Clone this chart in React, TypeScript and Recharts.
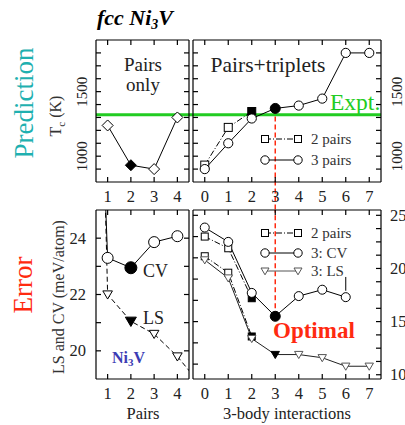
import React from 'react';
import { ComposedChart, Line, XAxis, YAxis, ReferenceLine } from 'recharts';

const FONT = '"Liberation Serif", "DejaVu Serif", serif';

// ---------- data ----------
// Top-left: Tc, pairs only
const pairsX = [1, 2, 3, 4];
const tcPairsOnly = [1238, 930, 900, 1300];
const pairsOnlyOptimal = 2;

// Top-right: Tc, pairs + triplets
const tripletsX = [0, 1, 2, 3, 4, 5, 6, 7];
const tc2Pairs = [931, 1223, 1346];
const tc3Pairs = [900, 1100, 1292, 1370, 1392, 1446, 1800, 1800];
const twoPairsOptimal = 2;
const threePairsOptimal = 3;
const EXPT_TC = 1320;

// Bottom-left: errors vs pairs
const cvPairsX = [0, 1, 2, 3, 4];
const cvPairs = [45, 23.3, 22.95, 23.86, 24.07];
const lsPairsX = [0, 1, 2, 3, 4, 5];
const lsPairs = [55, 22.0, 21.05, 20.6, 19.8, 18.8];
const pairsErrOptimal = 2;

// Bottom-right: errors vs 3-body interactions
const cv2Pairs = [23.0, 21.9, 17.2];
const ls2Pairs = [21.15, 19.6, 13.6];
const cv3 = [23.85, 22.5, 17.7, 15.5, 17.4, 18.0, 17.3];
const ls3 = [20.8, 19.1, 13.4, 11.9, 11.9, 11.6, 10.8, 10.8];

// axes / ticks
const pairsDomain = [0.5, 4.5];
const pairsTicks = [1, 2, 3, 4];
const tripDomain = [-0.5, 7.5];
const tripTicks = [0, 1, 2, 3, 4, 5, 6, 7];
const tcDomain = [800, 1900];
const tcTicks = [900, 1000, 1100, 1200, 1300, 1400, 1500, 1600, 1700, 1800];
const tcLabels = [1000, 1500];
const errLDomain = [19, 25];
const errLTicks = [20, 21, 22, 23, 24];
const errLLabels = [20, 22, 24];
const errRDomain = [9.6, 25.5];
const errRTicksLeft = [11, 13, 15, 17, 19, 21, 23, 25];
const errRTicksRight = [10, 11.25, 12.5, 13.75, 15, 16.25, 17.5, 18.75, 20, 21.25, 22.5, 23.75, 25];
const errRLabels = [10, 15, 20, 25];

const rows = (xs: number[], ys: number[]) => ys.map((y, i) => ({ x: xs[i], y }));

// ---------- markers ----------
type Shape = 'circle' | 'square' | 'diamond' | 'tri';
function Marker({ cx, cy, shape, size, filled, stroke }: any) {
  const fill = filled ? '#000' : '#fff';
  const st = filled ? '#000' : stroke;
  const common = { fill, stroke: st, strokeWidth: 1 };
  if (shape === 'circle') return <circle cx={cx} cy={cy} r={size} {...common} />;
  if (shape === 'square')
    return <rect x={cx - size} y={cy - size} width={2 * size} height={2 * size} {...common} />;
  if (shape === 'diamond')
    return (
      <polygon
        points={`${cx},${cy - size} ${cx + size},${cy} ${cx},${cy + size} ${cx - size},${cy}`}
        {...common}
      />
    );
  return (
    <polygon
      points={`${cx - size},${cy - size * 0.75} ${cx + size},${cy - size * 0.75} ${cx},${cy + size * 0.95}`}
      {...common}
    />
  );
}

const dotFn =
  (shape: Shape, size: number, filledIdx: number, xD: number[], yD: number[], stroke = '#000', filledSize?: number) =>
  (p: any) => {
    const { cx, cy, index, payload } = p;
    const key = `d-${index}`;
    if (payload.x < xD[0] || payload.x > xD[1] || payload.y < yD[0] || payload.y > yD[1]) return <g key={key} />;
    const filled = index === filledIdx;
    return (
      <Marker key={key} cx={cx} cy={cy} shape={shape} size={filled && filledSize ? filledSize : size} filled={filled} stroke={stroke} />
    );
  };

// ---------- ticks ----------
const TICK_FS = 16.5;
const emptyTick = () => <g />;
const rotTick = (labels: number[], dx: number) => (p: any) => {
  const { x, y, payload } = p;
  if (!labels.includes(payload.value)) return <g />;
  const X = x + dx;
  return (
    <text x={X} y={y} transform={`rotate(-90 ${X} ${y})`} textAnchor="middle" fontSize={15} fontFamily={FONT} fill="#222">
      {payload.value}
    </text>
  );
};
const hTick = (labels: number[], dx: number, anchor: string) => (p: any) => {
  const { x, y, payload } = p;
  if (!labels.includes(payload.value)) return <g />;
  return (
    <text x={x + dx} y={y + 5.5} textAnchor={anchor} fontSize={TICK_FS} fontFamily={FONT} fill="#222">
      {payload.value}
    </text>
  );
};
const xTick = (dy: number) => (p: any) => {
  const { x, y, payload } = p;
  return (
    <text x={x} y={y + dy} textAnchor="middle" fontSize={TICK_FS} fontFamily={FONT} fill="#222">
      {payload.value}
    </text>
  );
};

const axisStroke = { stroke: '#000', strokeWidth: 1.2 };

function frameAxes(o: {
  xDomain: number[];
  xTicks: number[];
  yDomain: number[];
  yTicksL: number[];
  yTicksR: number[];
  bottomTick: any;
  leftTick: any;
  rightTick: any;
}) {
  const common = { allowDataOverflow: true, tickSize: -5, tickMargin: 0, axisLine: axisStroke, tickLine: axisStroke, interval: 0 as any };
  return [
    <XAxis key="xb" xAxisId="b" orientation="bottom" type="number" dataKey="x" domain={o.xDomain} ticks={o.xTicks} height={1} tick={o.bottomTick} {...common} />,
    <XAxis key="xt" xAxisId="t" orientation="top" type="number" dataKey="x" domain={o.xDomain} ticks={o.xTicks} height={1} tick={emptyTick} {...common} />,
    <YAxis key="yl" yAxisId="l" orientation="left" type="number" domain={o.yDomain} ticks={o.yTicksL} width={1} tick={o.leftTick} {...common} />,
    <YAxis key="yr" yAxisId="r" orientation="right" type="number" domain={o.yDomain} ticks={o.yTicksR} width={1} tick={o.rightTick} {...common} />,
  ];
}

const W = 405;
const H = 425;
const abs: React.CSSProperties = { position: 'absolute', left: 0, top: 0 };
const RED = '#ff2a10';
const GREEN = '#22cc22';

// plot rect -> margin (axes take 1px each side)
const plotMargin = (l: number, t: number, r: number, b: number) => ({ left: l - 1, top: t - 1, right: W - r - 1, bottom: H - b - 1 });

const lineCommon = { xAxisId: 'b', yAxisId: 'l', dataKey: 'y', isAnimationActive: false, activeDot: false as any, legendType: 'none' as any };

export default function App() {
  const topLeft = (
    <ComposedChart width={W} height={H} margin={plotMargin(96, 40, 189, 182)}>
      {frameAxes({ xDomain: pairsDomain, xTicks: pairsTicks, yDomain: tcDomain, yTicksL: tcTicks, yTicksR: tcTicks, bottomTick: xTick(25), leftTick: rotTick(tcLabels, -14), rightTick: emptyTick })}
      <ReferenceLine xAxisId="b" yAxisId="l" ifOverflow="visible" segment={[{ x: pairsDomain[0], y: EXPT_TC }, { x: pairsDomain[1] + 0.17, y: EXPT_TC }]} stroke={GREEN} strokeWidth={3} />
      <Line {...lineCommon} data={rows(pairsX, tcPairsOnly)} stroke="#000" strokeWidth={1} dot={dotFn('diamond', 5.5, pairsOnlyOptimal - 1, pairsDomain, tcDomain)} />
    </ComposedChart>
  );

  const topRight = (
    <ComposedChart width={W} height={H} margin={plotMargin(193, 40, 381, 182)}>
      {frameAxes({ xDomain: tripDomain, xTicks: tripTicks, yDomain: tcDomain, yTicksL: tcTicks, yTicksR: tcTicks, bottomTick: xTick(25), leftTick: emptyTick, rightTick: rotTick(tcLabels, 26) })}
      <ReferenceLine xAxisId="b" yAxisId="l" ifOverflow="visible" segment={[{ x: tripDomain[0], y: EXPT_TC }, { x: tripDomain[1], y: EXPT_TC }]} stroke={GREEN} strokeWidth={3} />
      <ReferenceLine xAxisId="b" yAxisId="l" ifOverflow="visible" segment={[{ x: threePairsOptimal, y: tc3Pairs[threePairsOptimal] }, { x: threePairsOptimal, y: 560 }]} stroke={RED} strokeWidth={1.5} strokeDasharray="5 3" />
      <Line {...lineCommon} data={rows(tripletsX, tc2Pairs)} stroke="#000" strokeWidth={1} strokeDasharray="6 2 1 2" dot={dotFn('square', 4, twoPairsOptimal, tripDomain, tcDomain)} />
      <Line {...lineCommon} data={rows(tripletsX, tc3Pairs)} stroke="#000" strokeWidth={1} dot={dotFn('circle', 4.6, threePairsOptimal, tripDomain, tcDomain, '#000', 5)} />
    </ComposedChart>
  );

  const bottomLeft = (
    <ComposedChart width={W} height={H} margin={plotMargin(96, 210, 189, 379)}>
      {frameAxes({ xDomain: pairsDomain, xTicks: pairsTicks, yDomain: errLDomain, yTicksL: errLTicks, yTicksR: errLTicks, bottomTick: xTick(25), leftTick: hTick(errLLabels, -15, 'end'), rightTick: emptyTick })}
      <Line {...lineCommon} data={rows(lsPairsX, lsPairs)} stroke="#000" strokeWidth={1} strokeDasharray="5 3" dot={dotFn('tri', 4.8, pairsErrOptimal, pairsDomain, errLDomain, '#000', 5.5)} />
      <Line {...lineCommon} data={rows(cvPairsX, cvPairs)} stroke="#000" strokeWidth={1} dot={dotFn('circle', 5.5, pairsErrOptimal, pairsDomain, errLDomain, '#000', 6)} />
    </ComposedChart>
  );

  const bottomRight = (
    <ComposedChart width={W} height={H} margin={plotMargin(193, 210, 381, 379)}>
      {frameAxes({ xDomain: tripDomain, xTicks: tripTicks, yDomain: errRDomain, yTicksL: errRTicksLeft, yTicksR: errRTicksRight, bottomTick: xTick(25), leftTick: emptyTick, rightTick: hTick(errRLabels, 14, 'start') })}
      <ReferenceLine xAxisId="b" yAxisId="l" ifOverflow="visible" segment={[{ x: threePairsOptimal, y: cv3[threePairsOptimal] }, { x: threePairsOptimal, y: errRDomain[1] }]} stroke={RED} strokeWidth={1.5} strokeDasharray="5 3" />
      <ReferenceLine xAxisId="b" yAxisId="l" segment={[{ x: 6, y: 17.9 }, { x: 6, y: 19.2 }]} stroke="#000" strokeWidth={1} />
      <Line {...lineCommon} data={rows(tripletsX, ls2Pairs)} stroke="#000" strokeWidth={1} strokeDasharray="6 2 1 2" dot={dotFn('square', 3.5, twoPairsOptimal, tripDomain, errRDomain)} />
      <Line {...lineCommon} data={rows(tripletsX, cv2Pairs)} stroke="#000" strokeWidth={1} strokeDasharray="6 2 1 2" dot={dotFn('square', 3.5, twoPairsOptimal, tripDomain, errRDomain)} />
      <Line {...lineCommon} data={rows(tripletsX, ls3)} stroke="#222" strokeWidth={1} dot={dotFn('tri', 4.2, threePairsOptimal, tripDomain, errRDomain, '#555')} />
      <Line {...lineCommon} data={rows(tripletsX, cv3)} stroke="#000" strokeWidth={1} dot={dotFn('circle', 4.5, threePairsOptimal, tripDomain, errRDomain, '#000', 5)} />
    </ComposedChart>
  );

  const T = { fontFamily: FONT } as any;
  const legendRow = (y: number, shape: Shape, dash: string | undefined, label: string, size: number, stroke = '#000') => (
    <g key={label}>
      <line x1={265} x2={298} y1={y} y2={y} stroke={stroke} strokeWidth={1} strokeDasharray={dash} />
      <Marker cx={265} cy={y} shape={shape} size={size} filled={false} stroke={stroke} />
      <Marker cx={298} cy={y} shape={shape} size={size} filled={false} stroke={stroke} />
      <text x={311} y={y + 5} fontSize={15} fill="#333" {...T}>{label}</text>
    </g>
  );

  const overlay = (
    <svg width={W} height={H} style={{ ...abs, pointerEvents: 'none' }}>
      <text x={97} y={25} fontSize={22} fontWeight="bold" fontStyle="italic" fill="#000" {...T}>
        fcc Ni<tspan fontSize={14} dy={4}>3</tspan><tspan dy={-4}>V</tspan>
      </text>
      <text x={33} y={103} transform="rotate(-90 33 103)" textAnchor="middle" fontSize={27} fill="#1fb0b0" {...T}>Prediction</text>
      <text x={61} y={116} transform="rotate(-90 61 116)" textAnchor="middle" fontSize={16} fill="#333" {...T}>
        T<tspan fontSize={11} dy={4}>c</tspan><tspan dy={-4}> (K)</tspan>
      </text>
      <text x={143} y={71} textAnchor="middle" fontSize={19} fill="#222" {...T}>Pairs</text>
      <text x={143} y={91} textAnchor="middle" fontSize={19} fill="#222" {...T}>only</text>
      <text x={268} y={72} textAnchor="middle" fontSize={21.5} fill="#222" {...T}>Pairs+triplets</text>
      <text x={330} y={110} fontSize={23.5} fill={GREEN} {...T}>Expt.</text>
      {legendRow(139, 'square', '6 2 1 2', '2 pairs', 3.5)}
      {legendRow(160, 'circle', undefined, '3 pairs', 4.2)}

      <text x={32} y={285} transform="rotate(-90 32 285)" textAnchor="middle" fontSize={27} fill={RED} {...T}>Error</text>
      <text x={64} y={297} transform="rotate(-90 64 297)" textAnchor="middle" fontSize={16} fill="#333" {...T}>LS and CV (meV/atom)</text>
      <text x={143} y={277} fontSize={18} fill="#222" {...T}>CV</text>
      <text x={143} y={324} fontSize={18} fill="#222" {...T}>LS</text>
      <text x={112} y={363} fontSize={16} fontWeight="bold" fill="#3c3cb4" {...T}>
        Ni<tspan fontSize={11} dy={3}>3</tspan><tspan dy={-3}>V</tspan>
      </text>
      <text x={143} y={419} textAnchor="middle" fontSize={16.5} fill="#222" {...T}>Pairs</text>
      <text x={287} y={419} textAnchor="middle" fontSize={16.5} fill="#222" {...T}>3-body interactions</text>
      <text x={273} y={338} fontSize={23} fontWeight="bold" fill={RED} {...T}>Optimal</text>
      {legendRow(233, 'square', '6 2 1 2', '2 pairs', 3.5)}
      {legendRow(253, 'circle', undefined, '3: CV', 4.2)}
      {legendRow(271, 'tri', undefined, '3: LS', 4, '#555')}
    </svg>
  );

  return (
    <div style={{ position: 'absolute', left: 0, top: 0, width: W, height: H, background: '#fff', overflow: 'hidden' }}>
      <div style={abs}>{topLeft}</div>
      <div style={abs}>{topRight}</div>
      <div style={abs}>{bottomLeft}</div>
      <div style={abs}>{bottomRight}</div>
      {overlay}
    </div>
  );
}
